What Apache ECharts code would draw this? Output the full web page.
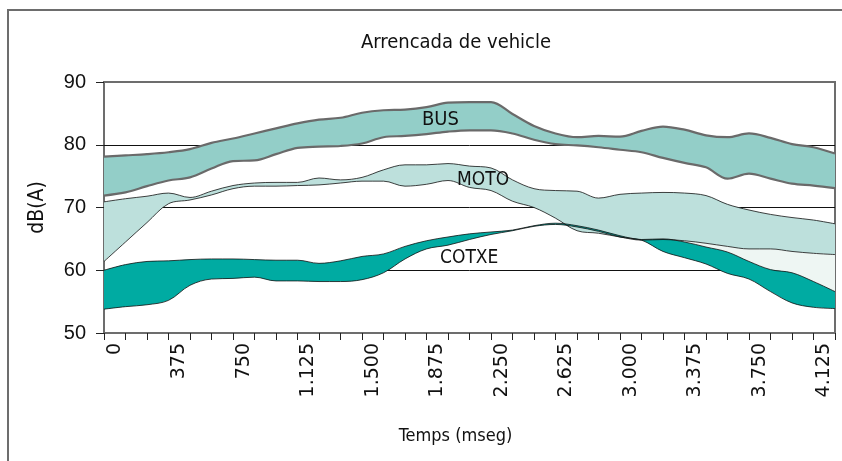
<!DOCTYPE html>
<html>
<head>
<meta charset="utf-8">
<title>Arrencada de vehicle</title>
<script src="https://cdn.jsdelivr.net/npm/echarts@6/dist/echarts.min.js"></script>
<style>
  html, body { margin: 0; padding: 0; background: #fff; }
  #main { width: 842px; height: 461px; }
</style>
</head>
<body>
<div id="main"></div>
<script>
// eix de categories (125 ms per categoria), etiquetes cada 375 ms
var categories = ['0', '125', '250', '375', '500', '625', '750', '875', '1.000', '1.125',
  '1.250', '1.375', '1.500', '1.625', '1.750', '1.875', '2.000', '2.125', '2.250', '2.375',
  '2.500', '2.625', '2.750', '2.875', '3.000', '3.125', '3.250', '3.375', '3.500', '3.625',
  '3.750', '3.875', '4.000', '4.125'];

// punts de mostra de les corbes (vora a vora del grafic)
var sampleMs = [0, 125, 250, 375, 500, 625, 750, 875, 1000, 1125, 1250, 1375, 1500, 1625,
  1750, 1875, 2000, 2125, 2250, 2375, 2500, 2625, 2750, 2875, 3000, 3125, 3250, 3375,
  3500, 3625, 3750, 3875, 4000, 4125, 4250];

var yTicks = [50, 60, 70, 80, 90];

// dB(A) maxim / minim per vehicle
var busUpper = [78.1, 78.3, 78.5, 78.8, 79.3, 80.3, 81.0, 81.8, 82.6, 83.4, 84.0, 84.3, 85.1, 85.5,
  85.6, 86.0, 86.7, 86.8, 86.8, 84.9, 83.0, 81.8, 81.2, 81.4, 81.3, 82.2, 82.9, 82.4, 81.5,
  81.2, 81.8, 81.1, 80.1, 79.6, 78.6];
var busLower = [71.9, 72.4, 73.4, 74.3, 74.8, 76.2, 77.4, 77.5, 78.5, 79.5, 79.7, 79.8, 80.2, 81.2,
  81.4, 81.7, 82.1, 82.3, 82.3, 81.8, 80.8, 80.1, 79.9, 79.6, 79.2, 78.8, 77.9, 77.1, 76.4,
  74.6, 75.4, 74.6, 73.8, 73.5, 73.1];

var motoUpper = [70.9, 71.4, 71.8, 72.3, 71.6, 72.6, 73.5, 73.9, 74.0, 74.0, 74.7, 74.4, 74.8, 76.0,
  76.8, 76.8, 77.0, 76.6, 76.3, 74.4, 73.0, 72.7, 72.6, 71.5, 72.1, 72.3, 72.4, 72.3, 71.9,
  70.5, 69.6, 68.9, 68.4, 68.0, 67.4];
var motoLower = [61.4, 64.5, 67.6, 70.6, 71.2, 72.0, 73.0, 73.4, 73.4, 73.5, 73.6, 73.9, 74.2, 74.2,
  73.4, 73.7, 74.3, 73.2, 72.7, 71.0, 70.0, 68.3, 66.3, 65.9, 65.3, 64.8, 64.9, 64.7, 64.3,
  63.8, 63.4, 63.4, 63.0, 62.7, 62.5];

var cotxeUpper = [60.0, 60.9, 61.4, 61.5, 61.7, 61.8, 61.8, 61.7, 61.6, 61.6, 61.1, 61.5, 62.2, 62.6,
  63.8, 64.7, 65.3, 65.8, 66.1, 66.4, 67.1, 67.5, 67.1, 66.4, 65.5, 64.9, 65.0, 64.5, 63.7,
  62.9, 61.4, 60.1, 59.6, 58.2, 56.6];
var cotxeLower = [53.8, 54.2, 54.5, 55.2, 57.6, 58.6, 58.7, 58.9, 58.3, 58.3, 58.2, 58.2, 58.5, 59.6,
  61.8, 63.4, 64.0, 64.9, 65.7, 66.3, 67.0, 67.3, 66.9, 66.2, 65.3, 64.8, 63.0, 62.0, 61.0,
  59.5, 58.6, 56.6, 54.8, 54.1, 53.9];

// franja clara entre MOTO i COTXE a partir d'aquest punt
var paleFrom = 26;

var narrow = "'Liberation Sans Narrow', 'DejaVu Sans Condensed', sans-serif";
var smoothK = 0.35;

function diff(up, low, from) {
  var out = [];
  for (var i = 0; i < up.length; i++) {
    out.push(i < from ? null : +(up[i] - low[i]).toFixed(2));
  }
  return out;
}

function cut(arr, from) {
  return arr.map(function (v, i) { return i < from ? null : v; });
}

// franja = serie base invisible + serie apilada amb area
function bandSeries(id, lower, upper, color, from) {
  from = from || 0;
  return [{
    type: 'line', xAxisIndex: 1, stack: id, stackStrategy: 'all',
    data: cut(lower, from), smooth: smoothK, symbol: 'none', silent: true,
    lineStyle: { width: 0, opacity: 0 }
  }, {
    type: 'line', xAxisIndex: 1, stack: id, stackStrategy: 'all',
    data: diff(upper, lower, from), smooth: smoothK, symbol: 'none', silent: true,
    lineStyle: { width: 0, opacity: 0 },
    areaStyle: { color: color, opacity: 1 }
  }];
}

function edge(data, color, width) {
  return {
    type: 'line', xAxisIndex: 1, data: data, smooth: smoothK, symbol: 'none', silent: true,
    lineStyle: { color: color, width: width }
  };
}

var series = []
  .concat(bandSeries('bus', busLower, busUpper, '#93cec8'))
  .concat(bandSeries('moto', motoLower, motoUpper, '#bde0dc'))
  .concat(bandSeries('pale', cotxeUpper, motoLower, '#eef6f3', paleFrom))
  .concat(bandSeries('cotxe', cotxeLower, cotxeUpper, '#00aba2'));

series.push(edge(busUpper, '#6a6a6a', 2.2));
series.push(edge(busLower, '#6a6a6a', 2.2));
series.push(edge(motoUpper, '#111', 0.8));
series.push(edge(motoLower, '#111', 0.8));
series.push(edge(cotxeUpper, '#111', 0.8));
series.push(edge(cotxeLower, '#111', 0.8));

var myChart = echarts.init(document.getElementById('main'), null, { renderer: 'canvas' });

var option = {
  backgroundColor: '#fff',
  animation: false,
  title: {
    text: 'Arrencada de vehicle',
    left: 451, top: 28, textAlign: 'center',
    textStyle: { fontFamily: narrow, fontSize: 20, fontWeight: 'normal', color: '#111' }
  },
  grid: {
    left: 104, right: 7, top: 82, bottom: 128,
    show: true, borderColor: '#6d6d6d', borderWidth: 2
  },
  xAxis: [{
    type: 'category',
    data: categories,
    boundaryGap: true,
    name: 'Temps (mseg)',
    nameLocation: 'middle',
    nameGap: 94,
    nameTextStyle: { fontFamily: narrow, fontSize: 18, color: '#111', padding: [0, 28, 0, 0] },
    axisLine: { lineStyle: { color: '#6d6d6d', width: 2 } },
    axisTick: { show: true, interval: 0, length: 7, lineStyle: { color: '#222', width: 1 } },
    axisLabel: {
      interval: 2, rotate: 90, margin: 10,
      fontFamily: "'DejaVu Sans', sans-serif", fontSize: 19, color: '#111'
    },
    splitLine: { show: false }
  }, {
    type: 'category',
    data: sampleMs,
    boundaryGap: false,
    show: false
  }],
  yAxis: {
    type: 'value',
    min: yTicks[0], max: yTicks[yTicks.length - 1], interval: 10,
    z: 3,
    name: 'dB(A)',
    nameLocation: 'middle',
    nameGap: 56,
    nameTextStyle: { fontFamily: narrow, fontSize: 21, color: '#111' },
    axisLine: { show: false },
    axisTick: { show: true, length: 8, lineStyle: { color: '#222', width: 1 } },
    axisLabel: { margin: 18, fontFamily: "'Liberation Sans', sans-serif", fontSize: 20, color: '#111' },
    splitLine: {
      show: true,
      lineStyle: { color: ['rgba(0,0,0,0)', '#111', '#111', '#111', 'rgba(0,0,0,0)'], width: 1 }
    }
  },
  graphic: [{
    type: 'rect', silent: true, z: 0,
    shape: { x: 8, y: 10, width: 900, height: 520 },
    style: { fill: 'none', stroke: '#6d6d6d', lineWidth: 2 }
  }, {
    type: 'text', left: 422, top: 110, z: 10,
    style: { text: 'BUS', font: '20px ' + narrow, fill: '#111' }
  }, {
    type: 'text', left: 457, top: 171, z: 10,
    style: { text: 'MOTO', font: '19px ' + narrow, fill: '#111' }
  }, {
    type: 'text', left: 440, top: 249, z: 10,
    style: { text: 'COTXE', font: '19px ' + narrow, fill: '#111' }
  }],
  series: series
};

myChart.setOption(option);
</script>
</body>
</html>
